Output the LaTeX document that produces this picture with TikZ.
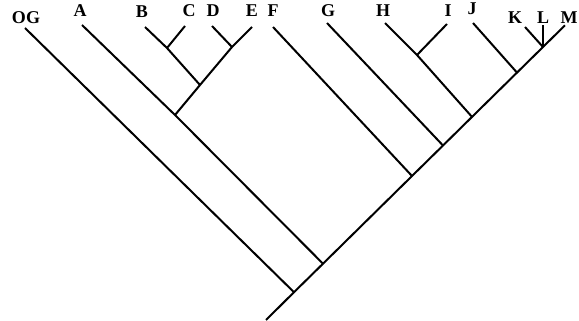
\documentclass[tikz,border=0pt]{standalone}
\usepackage{fontspec}
\setmainfont{Liberation Serif}
\tikzset{
  branch/.style={line width=2pt, line join=round},
  taxon/.style={inner sep=0pt, font=\fontsize{18}{20}\selectfont\bfseries}
}

\begin{document}
\begin{tikzpicture}[x=1pt, y=-1pt]
      \useasboundingbox (0,0) rectangle (579,321);
      % tips
      \coordinate (tOG) at (25,28);
      \coordinate (tA) at (82,25);
      \coordinate (tB) at (145,27);
      \coordinate (tC) at (185,26);
      \coordinate (tD) at (212,26);
      \coordinate (tE) at (252,27);
      \coordinate (tF) at (273,27);
      \coordinate (tG) at (327,23);
      \coordinate (tH) at (385,23);
      \coordinate (tI) at (447,24);
      \coordinate (tJ) at (473,23);
      \coordinate (tK) at (525,27);
      \coordinate (tL) at (543,25);
      \coordinate (tM) at (565,25.3);
      % internal nodes
      \coordinate (stem) at (266,320);
      \coordinate (root) at (294,292.2);
      \coordinate (n1) at (323,263.7);
      \coordinate (nA) at (175,115);
      \coordinate (nBE) at (200,85);
      \coordinate (nBC) at (167,48);
      \coordinate (nDE) at (232,47);
      \coordinate (n2) at (412,176);
      \coordinate (n3) at (443,145.5);
      \coordinate (n4) at (472,116.9);
      \coordinate (nHI) at (417,55);
      \coordinate (n5) at (517,72.6);
      \coordinate (n6) at (543,47);
      % branches
      \draw[branch] (stem) -- (root) -- (tOG);
      \draw[branch] (root) -- (n1) -- (n2) -- (n3) -- (n4) -- (n5) -- (n6) -- (tM);
      \draw[branch] (n1) -- (nA) -- (tA);
      \draw[branch] (nA) -- (nBE) -- (nDE) -- (tE);
      \draw[branch] (nBE) -- (nBC) -- (tB);
      \draw[branch] (nBC) -- (tC);
      \draw[branch] (nDE) -- (tD);
      \draw[branch] (n2) -- (tF);
      \draw[branch] (n3) -- (tG);
      \draw[branch] (n4) -- (nHI) -- (tH);
      \draw[branch] (nHI) -- (tI);
      \draw[branch] (n5) -- (tJ);
      \draw[branch] (n6) -- (tK);
      \draw[branch] (n6) -- (tL);
      % labels
      \node[taxon] (og) at (26,18) {OG};
      \node[taxon] (a) at (80,11) {A};
      \node[taxon] (b) at (142,12) {B};
      \node[taxon] (c) at (189,11) {C};
      \node[taxon] (d) at (213,11) {D};
      \node[taxon] (e) at (252,11) {E};
      \node[taxon] (f) at (273,11) {F};
      \node[taxon] (g) at (328,11) {G};
      \node[taxon] (h) at (383,11) {H};
      \node[taxon] (i) at (448,11) {I};
      \node[taxon] (j) at (472,9) {J};
      \node[taxon] (k) at (515,18) {K};
      \node[taxon] (l) at (543,18) {L};
      \node[taxon] (m) at (569,18) {M};
\end{tikzpicture}
\end{document}
